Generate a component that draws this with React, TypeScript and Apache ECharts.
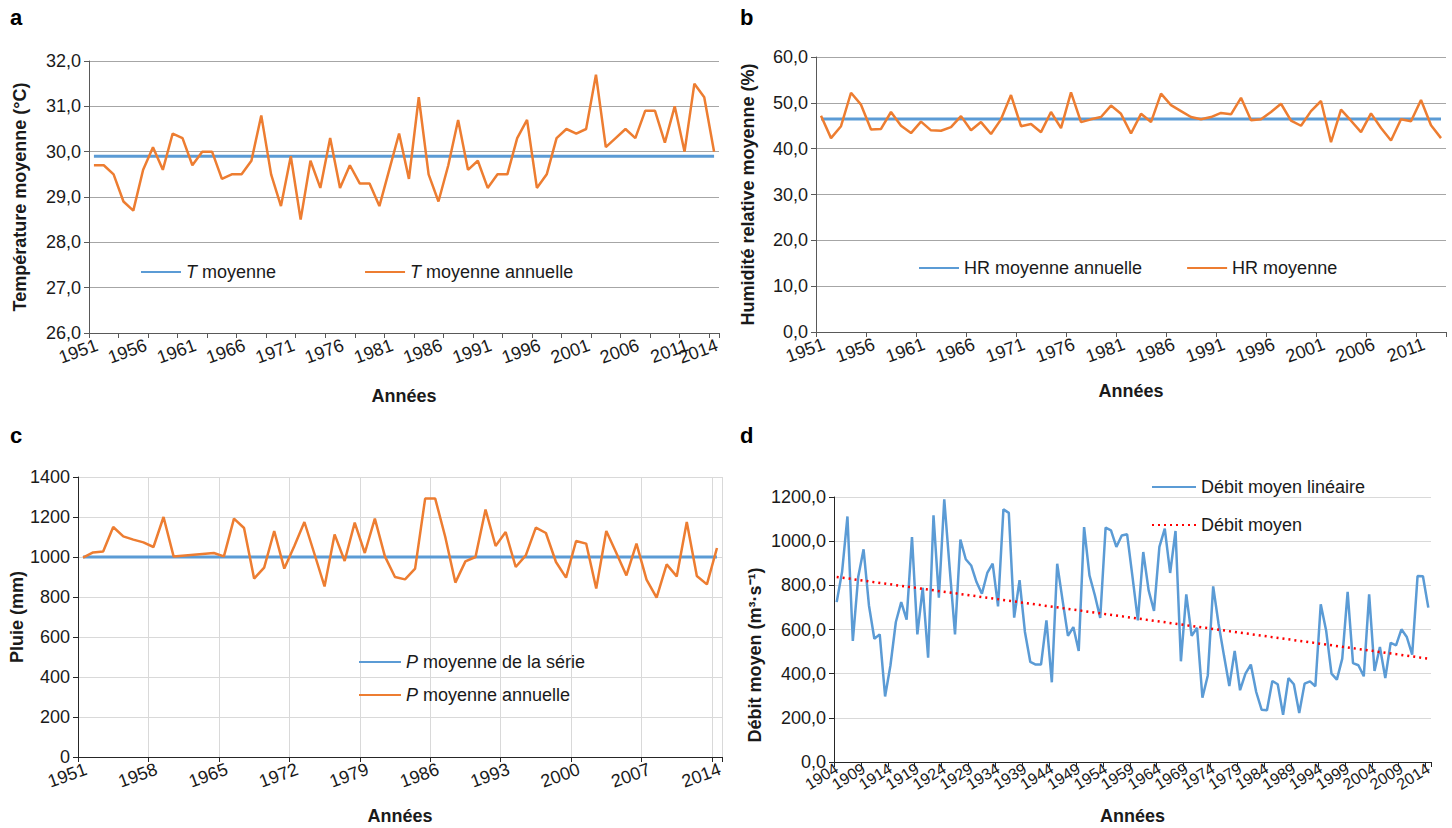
import { useEffect, useRef } from "react";
import * as echarts from "echarts";

const FONT = "'Liberation Sans', Arial, sans-serif";
const TXT = "#1a1a1a";
const BLUE = "#5B9BD5";
const ORANGE = "#ED7D31";
const RED = "#FF0000";

// ---- categories ----
const yearsA = Array.from({ length: 64 }, (_, i) => String(1951 + i));
const yearsB = Array.from({ length: 63 }, (_, i) => String(1951 + i));
const yearsC = Array.from({ length: 64 }, (_, i) => String(1951 + i));
const yearsD = Array.from({ length: 111 }, (_, i) => String(1904 + i));

// ---- (a) temperature ----
const tempAnnual = [
  29.7, 29.7, 29.5, 28.9, 28.7, 29.6, 30.1, 29.6, 30.4, 30.3,
  29.7, 30.0, 30.0, 29.4, 29.5, 29.5, 29.8, 30.8, 29.5, 28.8,
  29.9, 28.5, 29.8, 29.2, 30.3, 29.2, 29.7, 29.3, 29.3, 28.8,
  29.6, 30.4, 29.4, 31.2, 29.5, 28.9, 29.7, 30.7, 29.6, 29.8,
  29.2, 29.5, 29.5, 30.3, 30.7, 29.2, 29.5, 30.3, 30.5, 30.4,
  30.5, 31.7, 30.1, 30.3, 30.5, 30.3, 30.9, 30.9, 30.2, 31.0,
  30.0, 31.5, 31.2, 30.0,
];
const tempMean = 29.9;

// ---- (b) humidity ----
const humAnnual = [
  47.2, 42.3, 44.9, 52.2, 49.6, 44.2, 44.3, 48.0, 45.0, 43.4,
  45.9, 44.0, 43.9, 44.7, 47.1, 44.0, 45.8, 43.2, 46.4, 51.7,
  44.9, 45.4, 43.6, 48.0, 44.5, 52.3, 45.8, 46.4, 46.9, 49.4,
  47.6, 43.3, 47.6, 45.8, 52.0, 49.5, 48.2, 46.9, 46.4, 46.9,
  47.8, 47.5, 51.1, 46.2, 46.4, 48.0, 49.8, 46.1, 45.0, 48.2,
  50.4, 41.4, 48.5, 46.1, 43.6, 47.7, 44.5, 41.8, 46.4, 46.0,
  50.6, 45.1, 42.3,
];
const humMean = 46.5;

// ---- (c) rainfall ----
const rainAnnual = [
  997, 1023, 1028, 1150, 1103, 1087, 1073, 1050, 1200, 1003,
  null, null, null, 1020, 1003, 1192, 1145, 892, 947, 1130,
  942, 1055, 1175, 1015, 853, 1113, 980, 1172, 1020, 1192,
  1003, 900, 888, 942, 1292, 1292, 1100, 872, 978, 1000,
  1237, 1055, 1125, 950, 1008, 1147, 1120, 975, 897, 1080,
  1067, 842, 1130, 1020, 908, 1067, 887, 797, 963, 903,
  1175, 905, 863, 1045,
];
const rainMean = 1000;

// ---- (d) discharge ----
const flowAnnual = [
  724, 860, 1112, 548, 838, 963, 709, 558, 578, 297,
  438, 634, 724, 645, 1019, 578, 789, 472, 1117, 744,
  1189, 880, 578, 1007, 918, 890, 815, 762, 856, 898,
  705, 1144, 1128, 654, 823, 589, 453, 441, 442, 641,
  361, 898, 732, 571, 611, 503, 1064, 845, 755, 652,
  1061, 1049, 974, 1026, 1031, 838, 641, 951, 777, 684,
  974, 1057, 856, 1046, 456, 759, 571, 608, 291, 392,
  795, 626, 483, 344, 503, 325, 400, 441, 317, 237,
  234, 367, 352, 214, 380, 352, 222, 355, 365, 343,
  714, 596, 400, 373, 468, 770, 448, 438, 388, 759,
  412, 521, 380, 540, 528, 601, 566, 486, 842, 841,
  699,
];
const flowTrendEnds = [838, 468];

const comma1 = (v: number) => v.toFixed(1).replace(".", ",");

const baseText = { fontFamily: FONT, color: TXT };

function xCat(gridIndex: number, data: string[], o: any) {
  return {
    type: "category",
    gridIndex,
    data,
    position: "bottom",
    boundaryGap: true,
    axisLine: { show: o.bare ? false : true, lineStyle: { color: o.axisColor, width: 1 } },
    axisTick: { show: o.bare ? false : true, interval: o.tickInterval, length: 5, lineStyle: { color: o.axisColor } },
    axisLabel: {
      interval: o.labelInterval,
      rotate: o.rotate,
      fontSize: o.labelSize,
      margin: o.labelMargin,
      verticalAlign: o.vAlign,
      ...baseText,
    },
    splitLine: o.split
      ? { show: true, interval: o.tickInterval, lineStyle: { color: "#D9D9D9", width: 1 } }
      : { show: false },
    name: o.bare ? "" : "Années",
    nameLocation: "middle",
    nameGap: o.nameGap,
    nameTextStyle: { fontSize: 18, fontWeight: "bold", ...baseText },
  };
}

function yVal(gridIndex: number, o: any) {
  return {
    type: "value",
    gridIndex,
    min: o.min,
    max: o.max,
    interval: o.interval,
    axisLine: { show: true, lineStyle: { color: o.axisColor, width: 1 } },
    axisTick: { show: true, length: 5, lineStyle: { color: o.axisColor } },
    axisLabel: { fontSize: 18, margin: 8, formatter: o.fmt, ...baseText },
    splitLine: { show: true, lineStyle: { color: o.gridColor, width: 1 } },
    name: o.name,
    nameLocation: "middle",
    nameGap: o.nameGap,
    nameRotate: 90,
    nameTextStyle: { fontSize: 18, fontWeight: "bold", ...baseText },
  };
}

const legendText = {
  fontSize: 18,
  ...baseText,
  rich: { i: { fontStyle: "italic", fontSize: 18, ...baseText } },
};
const italicFirst = (name: string) => name.replace(/^(T|P) /, "{i|$1} ");
const legendCommon = {
  itemHeight: 14,
  textStyle: legendText,
  selectedMode: false,
  itemStyle: { opacity: 0 },
};

export default function App() {
  const ref = useRef<HTMLDivElement>(null);
  useEffect(() => {
    const chart = echarts.init(ref.current!, null, { renderer: "svg" });
    const dAxis = {
      axisColor: "#262626", tickInterval: 4,
      rotate: 32, labelSize: 16, labelMargin: 5, nameGap: 45, split: false,
    };
    const option: any = {
      animation: false,
      backgroundColor: "#ffffff",
      textStyle: { fontFamily: FONT },
      grid: [
        { left: 89, top: 61, width: 630, height: 272 },
        { left: 816, top: 57, width: 630, height: 275 },
        { left: 78, top: 477, width: 644, height: 280 },
        { left: 834, top: 497, width: 597, height: 265 },
      ],
      xAxis: [
        xCat(0, yearsA, {
          axisColor: "#595959", tickInterval: 2,
          labelInterval: (i: number) => i % 5 === 0,
          rotate: 20, labelSize: 18, labelMargin: 3, vAlign: "top", nameGap: 54, split: false,
        }),
        xCat(1, yearsB, {
          axisColor: "#595959", tickInterval: 4, labelInterval: 4,
          rotate: 20, labelSize: 18, labelMargin: 3, vAlign: "top", nameGap: 50, split: false,
        }),
        xCat(2, yearsC, {
          axisColor: "#262626", tickInterval: 6, labelInterval: 6,
          rotate: 20, labelSize: 18, labelMargin: 3, vAlign: "top", nameGap: 50, split: true,
        }),
        xCat(3, yearsD, { ...dAxis, labelInterval: (i: number) => i % 10 === 0 }),
        // label-only companion axes (labels that would otherwise collide)
        xCat(0, yearsA, {
          bare: true, axisColor: "#595959", tickInterval: 2,
          labelInterval: (i: number) => i === yearsA.length - 1,
          rotate: 20, labelSize: 18, labelMargin: 3, vAlign: "top", nameGap: 54, split: false,
        }),
        xCat(3, yearsD, { ...dAxis, bare: true, labelInterval: (i: number) => i % 10 === 5 }),
      ],
      yAxis: [
        yVal(0, { min: 26, max: 32, interval: 1, fmt: comma1, axisColor: "#595959", gridColor: "#A6A6A6", name: "Température moyenne (°C)", nameGap: 60 }),
        yVal(1, { min: 0, max: 60, interval: 10, fmt: comma1, axisColor: "#595959", gridColor: "#A6A6A6", name: "Humidité relative moyenne (%)", nameGap: 59 }),
        yVal(2, { min: 0, max: 1400, interval: 200, fmt: (v: number) => String(v), axisColor: "#262626", gridColor: "#D9D9D9", name: "Pluie (mm)", nameGap: 49 }),
        yVal(3, { min: 0, max: 1200, interval: 200, fmt: comma1, axisColor: "#262626", gridColor: "#D9D9D9", name: "", nameGap: 70 }),
      ],
      legend: [
        {
          ...legendCommon,
          data: ["T moyenne", "T moyenne annuelle"],
          left: 135, top: 258, itemGap: 88, itemWidth: 40,
          formatter: italicFirst,
        },
        {
          ...legendCommon,
          data: ["HR moyenne annuelle", "HR moyenne"],
          left: 913, top: 254, itemGap: 44, itemWidth: 40,
        },
        {
          ...legendCommon,
          data: ["P moyenne de la série", "P moyenne annuelle"],
          orient: "vertical", left: 353, top: 648, itemGap: 15, itemWidth: 42,
          formatter: italicFirst,
        },
        {
          ...legendCommon,
          data: ["Débit moyen linéaire", "Débit moyen"],
          orient: "vertical", left: 1146, top: 473, itemGap: 20, itemWidth: 44,
        },
      ],
      series: [
        {
          name: "T moyenne", type: "line", xAxisIndex: 0, yAxisIndex: 0, symbol: "none",
          data: [[yearsA[0], tempMean], [yearsA[yearsA.length - 1], tempMean]],
          lineStyle: { color: BLUE, width: 3 }, itemStyle: { color: BLUE },
        },
        {
          name: "T moyenne annuelle", type: "line", xAxisIndex: 0, yAxisIndex: 0, symbol: "none",
          data: tempAnnual, lineStyle: { color: ORANGE, width: 2.5 }, itemStyle: { color: ORANGE },
        },
        {
          name: "HR moyenne annuelle", type: "line", xAxisIndex: 1, yAxisIndex: 1, symbol: "none",
          data: [[yearsB[0], humMean], [yearsB[yearsB.length - 1], humMean]],
          lineStyle: { color: BLUE, width: 3 }, itemStyle: { color: BLUE },
        },
        {
          name: "HR moyenne", type: "line", xAxisIndex: 1, yAxisIndex: 1, symbol: "none",
          data: humAnnual, lineStyle: { color: ORANGE, width: 2.5 }, itemStyle: { color: ORANGE },
        },
        {
          name: "P moyenne de la série", type: "line", xAxisIndex: 2, yAxisIndex: 2, symbol: "none",
          data: [[yearsC[0], rainMean], [yearsC[yearsC.length - 1], rainMean]],
          lineStyle: { color: BLUE, width: 3 }, itemStyle: { color: BLUE },
        },
        {
          name: "P moyenne annuelle", type: "line", xAxisIndex: 2, yAxisIndex: 2, symbol: "none",
          data: rainAnnual, connectNulls: true,
          lineStyle: { color: ORANGE, width: 2.5 }, itemStyle: { color: ORANGE },
        },
        {
          name: "Débit moyen linéaire", type: "line", xAxisIndex: 3, yAxisIndex: 3, symbol: "none",
          data: flowAnnual, lineStyle: { color: BLUE, width: 2.5 }, itemStyle: { color: BLUE },
        },
        {
          name: "Débit moyen", type: "line", xAxisIndex: 3, yAxisIndex: 3, symbol: "none",
          data: [[yearsD[0], flowTrendEnds[0]], [yearsD[yearsD.length - 1], flowTrendEnds[1]]],
          lineStyle: { color: RED, width: 2.5, type: [2, 4] }, itemStyle: { color: RED },
        },
      ],
      graphic: [
        { type: "text", left: 10, top: 6, style: { text: "a", font: `bold 22px ${FONT}`, fill: "#000" } },
        { type: "text", left: 740, top: 6, style: { text: "b", font: `bold 22px ${FONT}`, fill: "#000" } },
        { type: "text", left: 10, top: 424, style: { text: "c", font: `bold 22px ${FONT}`, fill: "#000" } },
        { type: "text", left: 740, top: 424, style: { text: "d", font: `bold 22px ${FONT}`, fill: "#000" } },
        {
          type: "text", x: 755, y: 655, rotation: Math.PI / 2,
          style: {
            text: "Débit moyen (m³·s⁻¹)", font: `bold 18px ${FONT}`, fill: TXT,
            align: "center", verticalAlign: "middle",
          },
        },
      ],
    };
    chart.setOption(option);
    return () => chart.dispose();
  }, []);
  return (
    <div
      ref={ref}
      style={{ position: "fixed", left: 0, top: 0, width: 1452, height: 828, background: "#fff" }}
    />
  );
}
